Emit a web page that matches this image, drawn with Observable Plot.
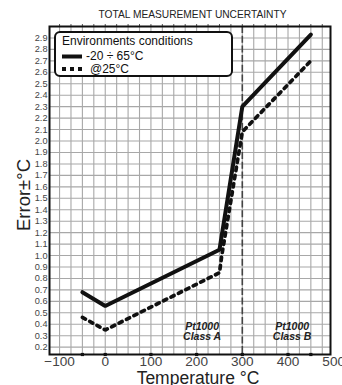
<!DOCTYPE html>
<html>
<head>
<meta charset="utf-8">
<script src="https://cdn.jsdelivr.net/npm/d3@7"></script>
<script src="https://cdn.jsdelivr.net/npm/@observablehq/plot@0.6"></script>
<style>
  html, body { margin: 0; padding: 0; background: #fff; }
  #wrap { position: relative; width: 342px; height: 385px; font-family: "Liberation Sans", Arial, sans-serif; }
  #legend { position: absolute; left: 54px; top: 31px; }
</style>
</head>
<body>
<div id="wrap"></div>
<script>
// ---- data ----
const solidTemps = [-50, 0, 250, 300, 450];
const solidError = [0.68, 0.56, 1.05, 2.30, 2.93];
const dottedTemps = [-50, 0, 250, 255, 300, 450];
const dottedError = [0.46, 0.35, 0.85, 1.00, 2.08, 2.70];
const xTickLabels = [-100, 0, 100, 200, 300, 400, 500];
const yTickLabels = [0.2,0.3,0.4,0.5,0.6,0.7,0.8,0.9,1.0,1.1,1.2,1.3,1.4,1.5,1.6,1.7,1.8,1.9,2.0,2.1,2.2,2.3,2.4,2.5,2.6,2.7,2.8,2.9];
const markerTemps = [-50, 0, 100, 200, 300, 400, 450];
const classBoundary = [300];
const classLabelX = [212, 409];
const classLabelText = ["Pt1000\nClass A", "Pt1000\nClass B"];
const classLabelY = [0.335, 0.335];
const titleText = "TOTAL MEASUREMENT UNCERTAINTY";
const xTitle = "Temperature °C";
const yTitle = "Error±°C";
const legendTitle = "Environments conditions";
const legendLabels = ["-20 ÷ 65°C", "@25°C"];

const solid = solidTemps.map((t, i) => ({t, e: solidError[i]}));
const dotted = dottedTemps.map((t, i) => ({t, e: dottedError[i]}));
const gridX = d3.range(-100, 500, 25);
const gridY = yTickLabels;
const classLabels = classLabelX.map((x, i) => ({x, y: classLabelY[i], text: classLabelText[i]}));

const chart = Plot.plot({
  width: 342,
  height: 385,
  marginLeft: 49,
  marginRight: 12,
  marginTop: 26,
  marginBottom: 31,
  style: {fontFamily: '"Liberation Sans", Arial, sans-serif', background: "#fff"},
  x: {domain: [-122, 493]},
  y: {domain: [0.136, 3.0]},
  marks: [
    Plot.ruleX(gridX, {stroke: "#a8a8a8", strokeWidth: 1.1}),
    Plot.ruleY(gridY, {stroke: "#a8a8a8", strokeWidth: 1.1}),
    Plot.ruleX(classBoundary, {stroke: "#444", strokeWidth: 1.6, strokeDasharray: "7,2.7"}),
    Plot.axisX({anchor: "top", ticks: gridX, tickSize: 3, tickFormat: () => "", label: null, stroke: "#555"}),
    Plot.axisX({anchor: "bottom", ticks: xTickLabels, tickSize: 0, tickPadding: 2, fontSize: 13.6, fill: "#444", label: null}),
    Plot.axisY({anchor: "left", ticks: yTickLabels, tickSize: 0, tickPadding: 2, fontSize: 9.2, fill: "#444",
      tickFormat: d3.format(".1f"), label: null}),
    Plot.text(classLabels, {x: "x", y: "y", text: "text", fontSize: 10.5, fontWeight: "bold", fontStyle: "italic",
      lineHeight: 1.0, fill: "#222"}),
    Plot.line(dotted, {x: "t", y: "e", stroke: "#111", strokeWidth: 3.7, strokeDasharray: "3.5,4.8", strokeLinejoin: "miter"}),
    Plot.line(solid, {x: "t", y: "e", stroke: "#111", strokeWidth: 4, strokeLinejoin: "miter"}),
    Plot.frame({stroke: "#111", strokeWidth: 2}),
    Plot.dot(markerTemps, {x: d => d, frameAnchor: "bottom", symbol: "square", r: 1.8, fill: "#111"})
  ]
});

const svg = d3.select(chart);
svg.append("text")
  .attr("x", 192.5).attr("y", 18.3)
  .attr("text-anchor", "middle")
  .attr("font-size", 11.5)
  .attr("textLength", 188).attr("lengthAdjust", "spacingAndGlyphs")
  .attr("fill", "#222")
  .text(titleText);
svg.append("text")
  .attr("transform", "translate(29.5,195) rotate(-90)")
  .attr("text-anchor", "middle")
  .attr("font-size", 18.5)
  .attr("fill", "#222")
  .text(yTitle);
svg.append("text")
  .attr("x", 198).attr("y", 384)
  .attr("text-anchor", "middle")
  .attr("font-size", 17.5)
  .attr("fill", "#222")
  .text(xTitle);

document.getElementById("wrap").appendChild(chart);

// legend overlay
const leg = d3.select("#wrap").append("svg").attr("id", "legend")
  .attr("width", 180).attr("height", 48);
leg.append("rect").attr("x", 1).attr("y", 1).attr("width", 177).attr("height", 44)
  .attr("rx", 5).attr("fill", "#fff").attr("stroke", "#111").attr("stroke-width", 2);
leg.append("text").attr("x", 8).attr("y", 14).attr("font-size", 12).attr("fill", "#111").text(legendTitle);
leg.append("line").attr("x1", 8).attr("x2", 28).attr("y1", 25.5).attr("y2", 25.5)
  .attr("stroke", "#111").attr("stroke-width", 4);
leg.append("text").attr("x", 32).attr("y", 29).attr("font-size", 12).attr("fill", "#111").text(legendLabels[0]);
leg.append("line").attr("x1", 8).attr("x2", 28).attr("y1", 38).attr("y2", 38)
  .attr("stroke", "#111").attr("stroke-width", 4).attr("stroke-dasharray", "4,4");
leg.append("text").attr("x", 36).attr("y", 42).attr("font-size", 12).attr("fill", "#111").text(legendLabels[1]);
</script>
</body>
</html>
